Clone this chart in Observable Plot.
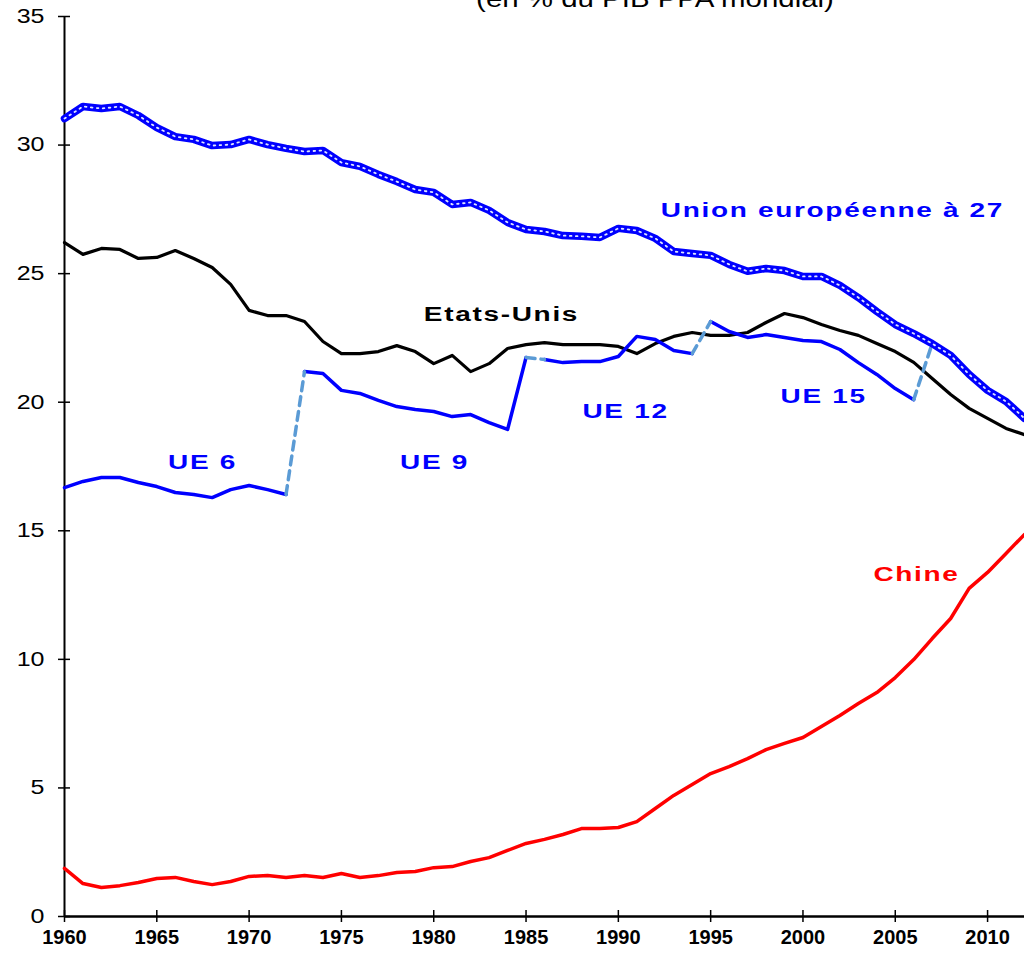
<!DOCTYPE html>
<html><head><meta charset="utf-8">
<script src="https://cdn.jsdelivr.net/npm/d3@7"></script>
<script src="https://cdn.jsdelivr.net/npm/@observablehq/plot@0.6"></script>
<style>
body{margin:0;background:#fff;}
#wrap{position:relative;width:1024px;height:957px;overflow:hidden;}
#title{position:absolute;left:405px;width:500px;top:-12px;text-align:center;font:23px "Liberation Sans",Arial,sans-serif;line-height:23px;color:#000;transform:scaleX(1.28);transform-origin:250px 0;white-space:nowrap;}
</style></head><body><div id="wrap"></div>
<script>
const years = [1960,1961,1962,1963,1964,1965,1966,1967,1968,1969,1970,1971,1972,1973,1974,1975,1976,1977,1978,1979,1980,1981,1982,1983,1984,1985,1986,1987,1988,1989,1990,1991,1992,1993,1994,1995,1996,1997,1998,1999,2000,2001,2002,2003,2004,2005,2006,2007,2008,2009,2010,2011,2012];
const eu27 = [31.03,31.5,31.42,31.5,31.15,30.68,30.33,30.22,29.98,30.02,30.22,30.02,29.87,29.75,29.79,29.32,29.17,28.86,28.58,28.27,28.16,27.69,27.77,27.46,26.99,26.72,26.64,26.48,26.45,26.41,26.76,26.68,26.37,25.86,25.78,25.71,25.36,25.09,25.2,25.12,24.89,24.89,24.54,24.07,23.53,23.02,22.67,22.28,21.82,21.08,20.46,20.03,19.37];
const us = [26.21,25.75,25.98,25.94,25.59,25.63,25.9,25.59,25.24,24.58,23.57,23.37,23.37,23.14,22.36,21.89,21.89,21.97,22.2,21.97,21.5,21.82,21.19,21.5,22.09,22.24,22.32,22.24,22.24,22.24,22.17,21.89,22.28,22.56,22.71,22.6,22.6,22.71,23.1,23.45,23.29,23.02,22.79,22.6,22.28,21.97,21.55,20.92,20.3,19.76,19.37,18.98,18.74];
const china = [1.87,1.28,1.13,1.2,1.32,1.48,1.52,1.36,1.24,1.36,1.56,1.59,1.52,1.59,1.52,1.67,1.52,1.59,1.71,1.75,1.9,1.94,2.14,2.29,2.57,2.84,3.0,3.19,3.42,3.42,3.46,3.69,4.2,4.71,5.13,5.56,5.83,6.14,6.49,6.73,6.96,7.39,7.82,8.28,8.71,9.29,9.99,10.81,11.59,12.76,13.38,14.12,14.86];
const ue6Years = [1960,1961,1962,1963,1964,1965,1966,1967,1968,1969,1970,1971,1972];
const ue6 = [16.68,16.92,17.07,17.07,16.88,16.72,16.49,16.41,16.29,16.6,16.76,16.6,16.41];
const ue9Years = [1973,1974,1975,1976,1977,1978,1979,1980,1981,1982,1983,1984,1985];
const ue9 = [21.19,21.12,20.46,20.34,20.07,19.83,19.72,19.64,19.44,19.52,19.21,18.94,21.74];
const ue12Years = [1986,1987,1988,1989,1990,1991,1992,1993,1994];
const ue12 = [21.66,21.54,21.58,21.58,21.78,22.56,22.44,22.01,21.89];
const ue15Years = [1995,1996,1997,1998,1999,2000,2001,2002,2003,2004,2005,2006];
const ue15 = [23.14,22.75,22.52,22.63,22.52,22.4,22.36,22.05,21.54,21.08,20.53,20.1];
const xTicks = [1960,1965,1970,1975,1980,1985,1990,1995,2000,2005,2010];
const yTicks = [0,5,10,15,20,25,30,35];
const labelText = ["Union européenne à 27","Etats-Unis","UE 6","UE 9","UE 12","UE 15","Chine"];
const labelX = [1992.3,1983.67,1967.48,1980.04,1990.39,2001.12,2006.15];
const labelY = [27.46,23.41,17.66,17.66,19.64,20.22,13.3];
const labelColor = ["#0000ff","#000000","#0000ff","#0000ff","#0000ff","#0000ff","#ff0000"];

const rows = (xs, vs) => xs.map((x, i) => ({x, y: vs[i]}));
const last = (xs, vs) => ({x: xs[xs.length-1], y: vs[vs.length-1]});
const first = (xs, vs) => ({x: xs[0], y: vs[0]});
const eu27At = (yr) => ({x: yr, y: eu27[years.indexOf(yr)]});
const connectors = [
  [last(ue6Years, ue6), first(ue9Years, ue9)],
  [last(ue9Years, ue9), first(ue12Years, ue12)],
  [last(ue12Years, ue12), first(ue15Years, ue15)],
  [last(ue15Years, ue15), eu27At(2007)]
];
const labels = labelText.map((t, i) => ({t, x: labelX[i], y: labelY[i], c: labelColor[i]}));

const BLUE = "#0000ff", DASH = "#5b9bd5";
const chart = Plot.plot({
  width: 1024, height: 957,
  marginLeft: 64, marginRight: 0, marginTop: 16, marginBottom: 41,
  x: {domain: [1960, 2012], axis: null},
  y: {domain: [0, 35], axis: null},
  style: {fontFamily: "'Liberation Sans', Arial, sans-serif", background: "white", color: "black"},
  marks: [
    Plot.ruleX([1960], {stroke: "black", strokeWidth: 2}),
    Plot.ruleY([0], {stroke: "black", strokeWidth: 2.5}),
    Plot.tickY(yTicks, {y: d => d, stroke: "black", strokeWidth: 1.5, insetLeft: -6, insetRight: 954}),
    Plot.tickX(xTicks, {x: d => d, stroke: "black", strokeWidth: 1.5, insetTop: 894, insetBottom: -6}),
    Plot.text(yTicks, {y: d => d, text: d => String(d), frameAnchor: "left", dx: -20, textAnchor: "end", fontSize: 20, fill: "black"}),
    Plot.text(xTicks, {x: d => d, text: d => String(d), frameAnchor: "bottom", dy: 27, fontSize: 20, fontWeight: "bold", fill: "black"}),
    Plot.line(rows(years, china), {x: "x", y: "y", stroke: "#ff0000", strokeWidth: 3.5}),
    Plot.line(rows(years, us), {x: "x", y: "y", stroke: "black", strokeWidth: 3.2}),
    Plot.line(rows(ue6Years, ue6), {x: "x", y: "y", stroke: BLUE, strokeWidth: 3.5}),
    Plot.line(rows(ue9Years, ue9), {x: "x", y: "y", stroke: BLUE, strokeWidth: 3.5}),
    Plot.line(rows(ue12Years, ue12), {x: "x", y: "y", stroke: BLUE, strokeWidth: 3.5}),
    Plot.line(rows(ue15Years, ue15), {x: "x", y: "y", stroke: BLUE, strokeWidth: 3.5}),
    ...connectors.map(seg => Plot.line(seg, {x: "x", y: "y", stroke: DASH, strokeWidth: 3.5, strokeDasharray: "9,6"})),
    Plot.line(rows(years, eu27), {x: "x", y: "y", stroke: BLUE, strokeWidth: 7.5}),
    Plot.line(rows(years, eu27), {x: "x", y: "y", stroke: "#dfe6ff", strokeWidth: 1.8, strokeDasharray: "1.6,4.4"}),
    Plot.text(labels.slice(0, 1), {x: "x", y: "y", text: "t", fill: "c", textAnchor: "start", fontSize: 20, fontWeight: "bold"}),
    Plot.text(labels.slice(1), {x: "x", y: "y", text: "t", fill: "c", textAnchor: "middle", fontSize: 20, fontWeight: "bold"})
  ]
});
const wrap = document.getElementById("wrap");
wrap.appendChild(chart);
const xTickStr = xTicks.map(String), yTickStr = yTicks.map(String);
chart.querySelectorAll("text").forEach(t => {
  const tr = t.getAttribute("transform") || "";
  if (labelText.includes(t.textContent)) {
    t.setAttribute("letter-spacing", "1.2");
    t.setAttribute("transform", tr + " scale(1.4,1)");
  } else if (t.getAttribute("font-weight") === "bold" && xTickStr.includes(t.textContent)) {
    t.setAttribute("transform", tr + " scale(1.2,1)");
  } else if (yTickStr.includes(t.textContent)) {
    t.setAttribute("transform", tr + " scale(1.25,1)");
  }
});
const title = document.createElement("div");
title.id = "title";
title.textContent = "(en % du PIB PPA mondial)";
wrap.appendChild(title);
</script></body></html>
